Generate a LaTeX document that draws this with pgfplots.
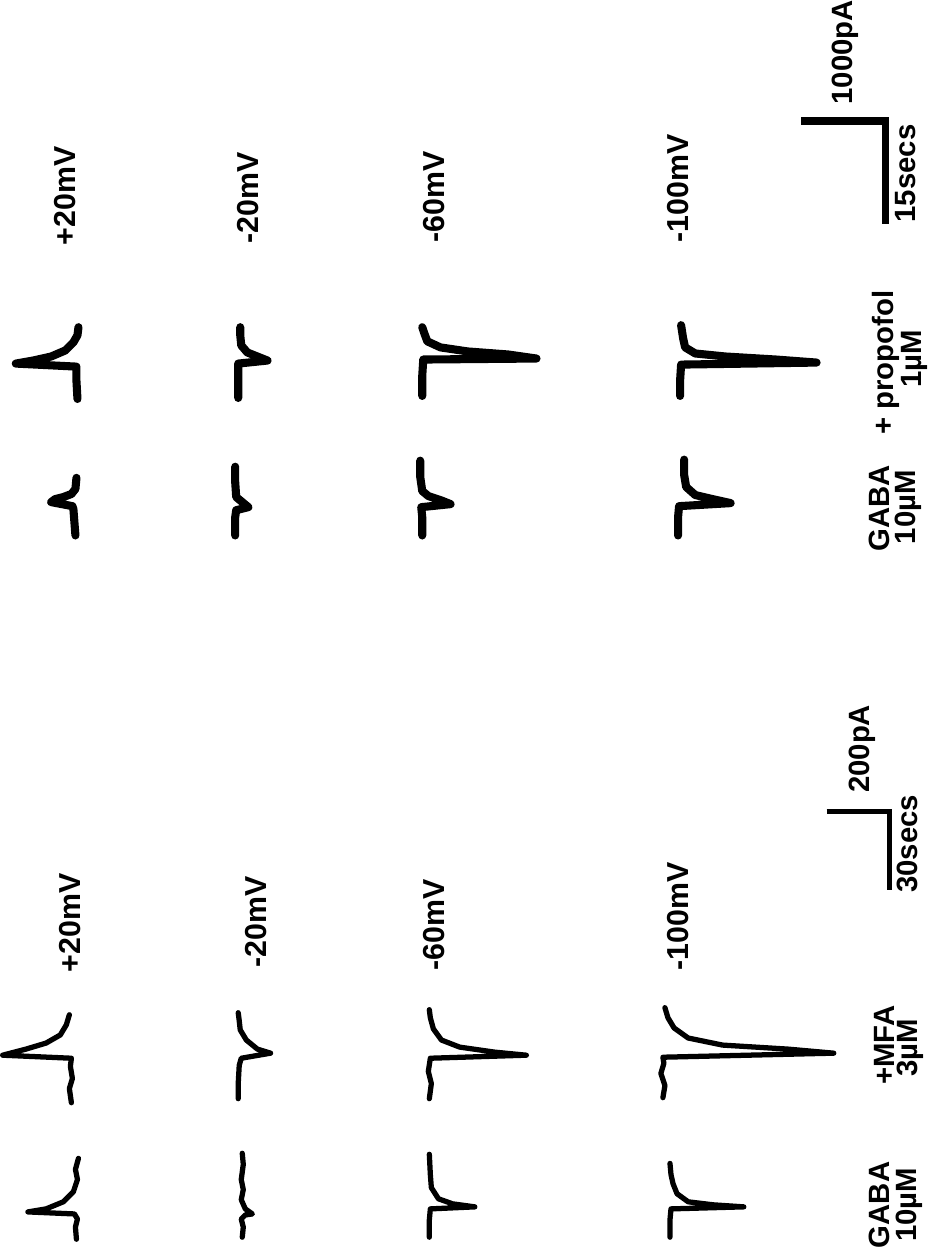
\documentclass[border=0pt]{standalone}
\usepackage{fontspec}
\setmainfont{Liberation Sans}
\usepackage{pgfplots}
\pgfplotsset{compat=1.18}
\begin{document}
\begin{tikzpicture}[lab/.style={rotate=90,font=\bfseries\fontsize{15}{17}\selectfont,inner sep=0pt},
  labs/.style={rotate=90,font=\bfseries\fontsize{14.5}{17}\selectfont,inner sep=0pt}]
\begin{axis}[scale only axis, width=465pt, height=624pt,
  xmin=0, xmax=930, ymin=0, ymax=1248, y dir=reverse,
  hide axis, clip=false,
  every axis plot/.append style={black, line join=round, line cap=round, mark=none},
  top/.style={line width=4pt},
  bot/.style={line width=2.6pt}]
% ---------- top panel (GABA 10uM / + propofol 1uM) ----------
\addplot[top] coordinates {(82,538) (81,525) (80,512) (79,509) (58,505) (62,502) (70,500) (78,497) (82,492) (83,481)};
\addplot[top] coordinates {(84,403) (83,385) (83,371) (23,368) (40,365) (58,361) (72,355) (80,347) (84,340) (85,332)};
\addplot[top] coordinates {(240,538) (240,520) (241,513) (253,510) (247,505) (241,500) (240,485) (240,470)};
\addplot[top] coordinates {(243,402) (243,385) (243,368) (272,365) (262,361) (252,357) (246,350) (245,340) (245,332)};
\addplot[top] coordinates {(425,538) (425,520) (424,510) (453,507) (443,503) (431,499) (425,494) (423,480) (423,464)};
\addplot[top] coordinates {(425,400) (425,380) (426,364) (538,363) (510,359) (470,356) (443,352) (430,346) (427,338) (425,332)};
\addplot[top] coordinates {(678,538) (678,520) (679,509) (730,506) (712,502) (695,498) (686,490) (684,478) (684,463)};
\addplot[top] coordinates {(680,400) (680,385) (681,369) (815,367) (775,364) (725,361) (695,358) (685,352) (683,343) (681,330)};
% scale bar top
\addplot[line width=3.8pt, line cap=butt, line join=miter] coordinates {(800,128) (883,128) (883,230)};
% ---------- bottom panel (GABA 10uM / +MFA 3uM) ----------
\addplot[bot] coordinates {(83,1234) (82,1222) (84,1214) (81,1209) (35,1207) (53,1204) (70,1197) (80,1187) (84,1175) (82,1165) (85,1154)};
\addplot[bot] coordinates {(78,1099) (76,1085) (79,1075) (77,1063) (78,1055) (10,1052) (33,1046) (53,1040) (67,1032) (73,1022) (76,1012)};
\addplot[bot] coordinates {(247,1232) (248,1222) (246,1214) (250,1210) (257,1209) (250,1204) (246,1195) (248,1185) (246,1175) (248,1160) (247,1149)};
\addplot[bot] coordinates {(243,1095) (243,1080) (244,1062) (246,1055) (275,1050) (262,1046) (251,1037) (245,1027) (244,1018) (243,1010)};
\addplot[bot] coordinates {(432,1232) (432,1215) (433,1204) (477,1202) (455,1199) (441,1194) (434,1183) (433,1170) (432,1150)};
\addplot[bot] coordinates {(432,1095) (434,1080) (431,1068) (433,1055) (528,1052) (497,1049) (462,1044) (444,1037) (436,1026) (433,1015) (432,1007)};
\addplot[bot] coordinates {(670,1232) (670,1215) (671,1204) (743,1202) (713,1200) (688,1197) (677,1189) (673,1179) (671,1170) (670,1159)};
\addplot[bot] coordinates {(663,1094) (665,1082) (661,1070) (664,1060) (663,1054) (832,1050) (787,1046) (722,1042) (688,1035) (674,1025) (668,1015) (665,1005)};
% scale bar bottom
\addplot[line width=2.8pt, line cap=butt, line join=miter] coordinates {(825,811) (887,811) (887,889)};
% ---------- labels ----------
\node[lab] at (axis cs:72,202) {+20mV};
\node[lab] at (axis cs:253,204) {-20mV};
\node[lab] at (axis cs:437,203) {-60mV};
\node[lab] at (axis cs:678,195) {-100mV};
\node[lab] at (axis cs:77,921) {+20mV};
\node[lab] at (axis cs:261,920) {-20mV};
\node[lab] at (axis cs:437,923) {-60mV};
\node[lab] at (axis cs:678,915) {-100mV};
\node[labs] at (axis cs:843,60) {1000pA};
\node[labs] at (axis cs:903,180) {15secs};
\node[labs] at (axis cs:884,367) {+ propofol};
\node[labs] at (axis cs:912,363) {1µM};
\node[labs] at (axis cs:877,1200) {GABA};
\node[labs] at (axis cs:877,511) {GABA};
\node[labs] at (axis cs:906,510) {10µM};
\node[labs] at (axis cs:860,749) {200pA};
\node[labs] at (axis cs:905,843) {30secs};
\node[labs] at (axis cs:882,1042) {+MFA};
\node[labs] at (axis cs:908,1045) {3µM};
\node[labs] at (axis cs:907,1200) {10µM};
\end{axis}
\end{tikzpicture}
\end{document}
